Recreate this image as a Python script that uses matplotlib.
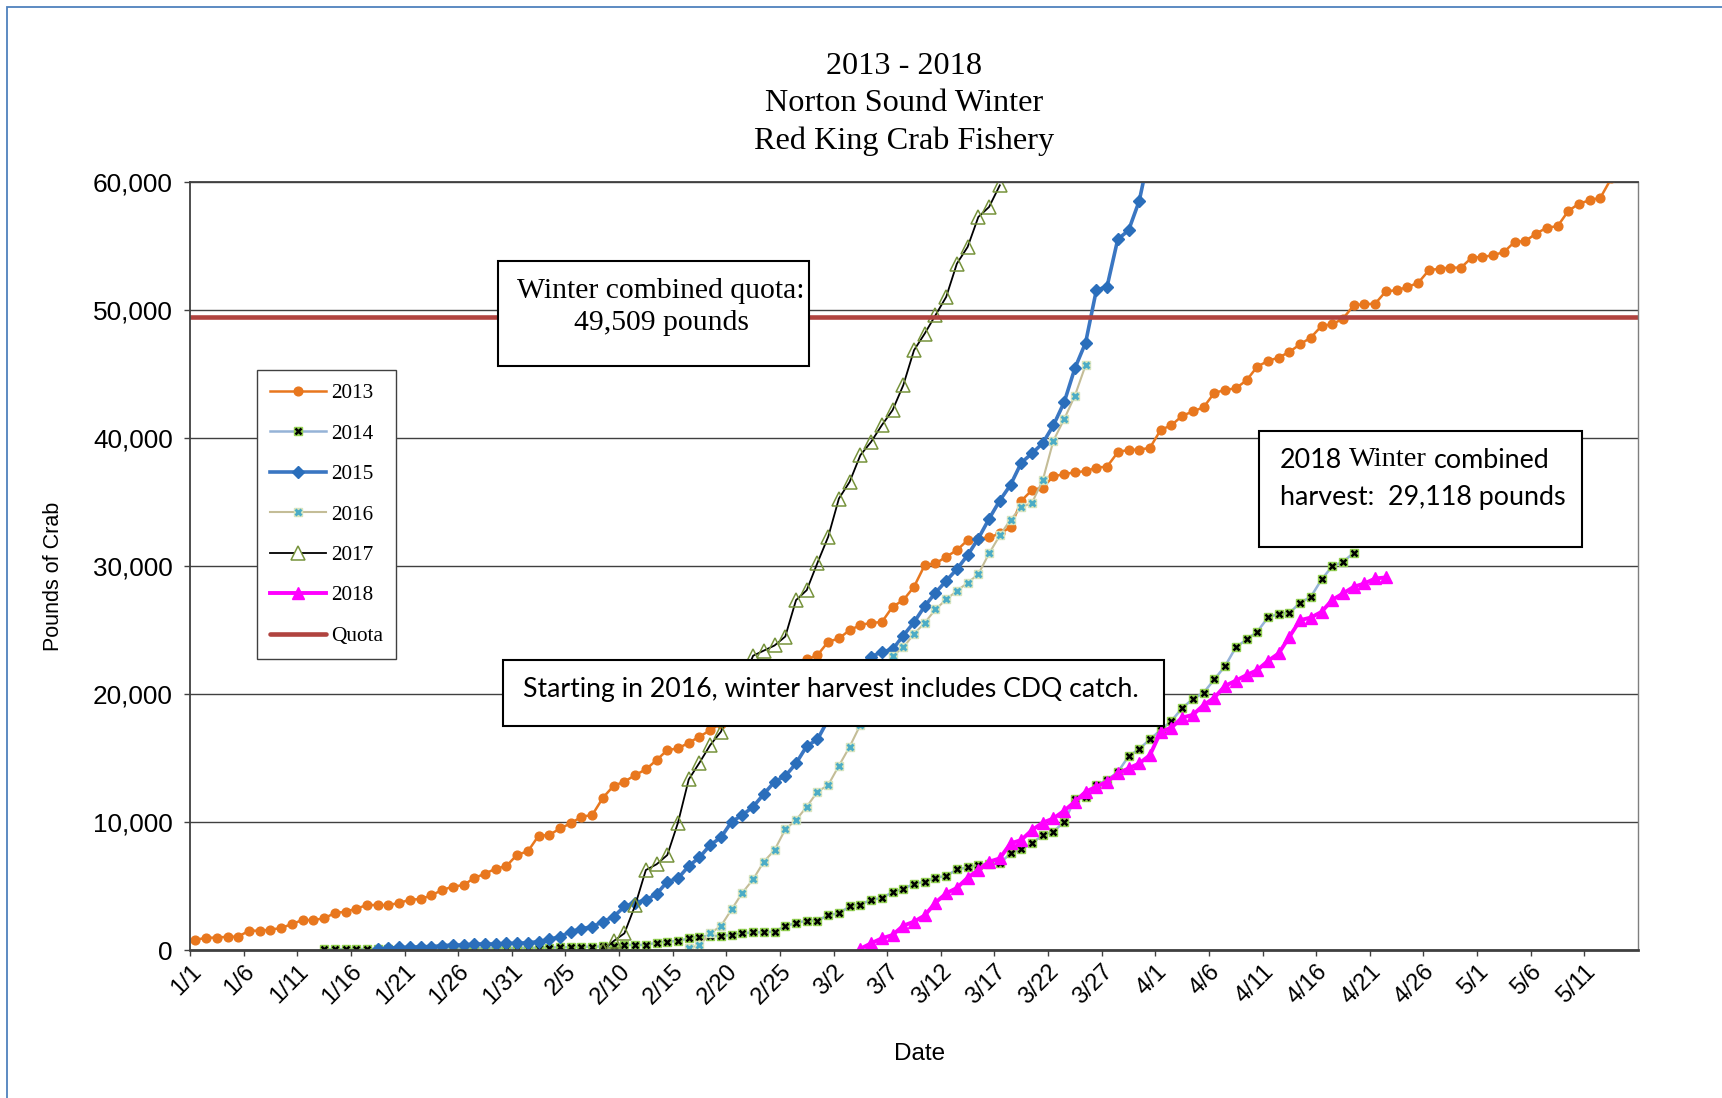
import matplotlib.pyplot as plt
import numpy as np
from matplotlib.lines import Line2D
from matplotlib.patches import Rectangle
from matplotlib.ticker import FuncFormatter

# cumulative pounds of crab by day, each season listed from its first day
start_dates = {'2013': '1/1', '2014': '1/13', '2015': '1/18',
               '2016': '2/16', '2017': '2/8', '2018': '3/4'}

harvest_2013 = [
    781, 964, 964, 1042, 1042, 1510, 1510, 1590, 1719, 2031,
    2344, 2344, 2474, 2891, 2995, 3229, 3516, 3516, 3516, 3672,
    3932, 3984, 4271, 4688, 4948, 5078, 5625, 5964, 6354, 6563,
    7448, 7708, 8932, 8984, 9505, 9896, 10417, 10547, 11901, 12839,
    13151, 13672, 14115, 14844, 15625, 15755, 16198, 16667, 17188, 17700,
    18300, 18900, 19600, 20300, 21000, 21600, 22200, 22708, 23047, 24089,
    24349, 25000, 25391, 25573, 25625, 26823, 27344, 28385, 30078, 30208,
    30729, 31250, 32031, 32161, 32240, 32553, 33036, 35106, 35945, 36146,
    37025, 37180, 37341, 37421, 37700, 37780, 38900, 39100, 39100, 39250,
    40650, 41010, 41750, 42090, 42420, 43540, 43770, 43900, 44520, 45590,
    46040, 46302, 46745, 47344, 47865, 48776, 48906, 49349, 50391, 50469,
    50521, 51484, 51563, 51823, 52135, 53125, 53255, 53333, 53333, 54115,
    54167, 54297, 54557, 55339, 55417, 55990, 56458, 56563, 57760, 58333,
    58594, 58802, 60300]

harvest_2014 = [
    50, 60, 60, 70, 80, 80, 90, 100, 100, 110,
    110, 120, 120, 130, 140, 150, 150, 160, 170, 180,
    180, 190, 200, 220, 240, 260, 280, 310, 391, 391,
    391, 573, 651, 703, 911, 1042, 1094, 1094, 1172, 1302,
    1380, 1380, 1432, 1875, 2110, 2292, 2292, 2734, 2865, 3410,
    3550, 3930, 4060, 4530, 4780, 5170, 5339, 5660, 5781, 6300,
    6450, 6640, 6720, 6771, 7552, 7865, 8333, 8984, 9245, 10026,
    11771, 11930, 12891, 13300, 13900, 15130, 15720, 16458, 17200, 17900,
    18906, 19620, 20104, 21146, 22188, 23646, 24271, 24870, 25990, 26280,
    26330, 27150, 27604, 28958, 30000, 30339, 31042]

harvest_2015 = [
    52, 130, 208, 208, 260, 260, 339, 391, 391, 469,
    469, 469, 521, 521, 573, 651, 833, 1042, 1432, 1667,
    1823, 2214, 2604, 3400, 3698, 3906, 4375, 5339, 5599, 6563,
    7240, 8203, 8802, 10026, 10547, 11198, 12188, 13151, 13594, 14583,
    15938, 16458, 18000, 19500, 21000, 22300, 22917, 23307, 23490, 24570,
    25610, 26875, 27917, 28854, 29766, 30859, 32161, 33700, 35130, 36350,
    38080, 38813, 39609, 41008, 42806, 45469, 47469, 51571, 51850, 55555,
    56235, 58547, 62500]

harvest_2016 = [
    130, 391, 1302, 1875, 3177, 4479, 5521, 6901, 7813, 9427,
    10156, 11198, 12370, 12891, 14401, 15885, 17600, 19400, 21200, 22969,
    23650, 24700, 25573, 26615, 27396, 28073, 28698, 29375, 30990, 32400,
    33640, 34590, 34950, 36703, 39813, 41484, 43320, 45711]

harvest_2017 = [
    0, 700, 1302, 3480, 6250, 6700, 7422, 9960, 13333, 14635,
    16016, 17057, 19000, 21000, 23000, 23400, 23800, 24500, 27344, 28125,
    30260, 32292, 35286, 36589, 38672, 39714, 41016, 42188, 44141, 46875,
    48177, 49609, 51042, 53646, 54948, 57292, 58073, 59766]

harvest_2018 = [
    100, 521, 911, 1172, 1900, 2214, 2700, 3700, 4427, 4850,
    5650, 6250, 6900, 7161, 8333, 8594, 9375, 9948, 10286, 10885,
    11589, 12370, 12760, 13151, 13802, 14193, 14583, 15234, 17050, 17380,
    18160, 18380, 19141, 19720, 20640, 21050, 21484, 21875, 22590, 23180,
    24480, 25781, 25980, 26430, 27370, 27865, 28385, 28646, 29036, 29118]

quota = 49509

tick_labels = ['1/1', '1/6', '1/11', '1/16', '1/21', '1/26', '1/31', '2/5',
               '2/10', '2/15', '2/20', '2/25', '3/2', '3/7', '3/12', '3/17',
               '3/22', '3/27', '4/1', '4/6', '4/11', '4/16', '4/21', '4/26',
               '5/1', '5/6', '5/11']

MONTH_START = {1: 0, 2: 31, 3: 59, 4: 90, 5: 120}
W, H = 1722, 1098


def day_index(md):
    m, d = md.split('/')
    return MONTH_START[int(m)] + int(d) - 1


def days_for(year, values):
    # points sit in the middle of each day's slot
    return day_index(start_dates[year]) + np.arange(len(values)) + 0.5


def fx(px):
    return px / W


def fy(py):
    return 1 - py / H


fig = plt.figure(figsize=(W / 100, H / 100), dpi=100)
ax = fig.add_axes([fx(190), fy(950), (1638 - 190) / W, (950 - 182.3) / H])

c13, c15, c18 = '#E8771E', '#3A76C2', '#FF00FF'
quota_color = '#B0433F'

ax.plot(days_for('2013', harvest_2013), harvest_2013, color=c13, lw=1.8,
        marker='o', ms=6.3, mec=c13, mfc=c13)

x14 = days_for('2014', harvest_2014)
ax.plot(x14, harvest_2014, color='#95B3D7', lw=1.8, marker='s', ms=5.5,
        mfc='#92D050', mec='#92D050')
ax.plot(x14, harvest_2014, ls='none', marker='x', ms=4.8, mew=1.8, color='black')

ax.plot(days_for('2015', harvest_2015), harvest_2015, color=c15, lw=2.6,
        marker='D', ms=6.2, mec='#2A6EBB', mfc='#2A6EBB')

x16 = days_for('2016', harvest_2016)
ax.plot(x16, harvest_2016, color='#C4BD97', lw=1.5, marker='s', ms=5.5,
        mfc='#D7E4BD', mec='#D7E4BD')
ax.plot(x16, harvest_2016, ls='none', marker='x', ms=4.8, mew=2, color='#4BACC6')

ax.plot(days_for('2017', harvest_2017), harvest_2017, color='black', lw=1.3,
        marker='^', ms=10, mfc='none', mec='#77933C', mew=1.1)

ax.plot(days_for('2018', harvest_2018), harvest_2018, color=c18, lw=2.8,
        marker='^', ms=8, mec=c18, mfc=c18)

ax.plot([0, 135], [quota, quota], color=quota_color, lw=3.3, solid_capstyle='round')

ax.set_xlim(0, 135)
ax.set_ylim(0, 60000)
ax.set_yticks(np.arange(0, 60001, 10000))
ax.yaxis.set_major_formatter(FuncFormatter(lambda v, p: f'{int(v):,}'))
ax.set_xticks([day_index(t) for t in tick_labels])
ax.set_xticklabels(tick_labels, rotation=45, ha='right', rotation_mode='anchor',
                   fontfamily='Liberation Sans', fontsize=17)
for lbl in ax.get_yticklabels():
    lbl.set_fontfamily('Liberation Sans')
    lbl.set_fontsize(18.8)
ax.tick_params(axis='both', direction='out', length=4.5, width=1, color='#404040')
ax.tick_params(axis='x', pad=3)
ax.tick_params(axis='y', pad=8)

ax.set_axisbelow(True)
ax.grid(axis='y', color='#404040', lw=1)
for side in ['left', 'top']:
    ax.spines[side].set_color('#404040')
    ax.spines[side].set_linewidth(1.3)
ax.spines['right'].set_color('#7F7F7F')
ax.spines['right'].set_linewidth(1)
ax.spines['bottom'].set_color('#404040')
ax.spines['bottom'].set_linewidth(2)

ax.set_ylabel('Pounds of Crab', fontfamily='Liberation Sans', fontsize=15.5)
ax.yaxis.set_label_coords((64 - 190) / 1448, 0.4865)
ax.set_xlabel('Date', fontfamily='Liberation Sans', fontsize=17.5)
ax.xaxis.set_label_coords((920 - 190) / 1448, -0.121)

fig.text(fx(904), fy(104), '2013 - 2018\nNorton Sound Winter\nRed King Crab Fishery',
         ha='center', va='center', multialignment='center', linespacing=1.36,
         fontfamily='Liberation Serif', fontsize=23.2)

# legend
handles = [
    Line2D([], [], color=c13, lw=1.8, marker='o', ms=6.3, mfc=c13, mec=c13),
    (Line2D([], [], color='#95B3D7', lw=1.8, marker='s', ms=5.5, mfc='#92D050', mec='#92D050'),
     Line2D([], [], ls='none', marker='x', ms=4.8, mew=1.8, color='black')),
    Line2D([], [], color=c15, lw=2.6, marker='D', ms=6.2, mfc='#2A6EBB', mec='#2A6EBB'),
    (Line2D([], [], color='#C4BD97', lw=1.5, marker='s', ms=5.5, mfc='#D7E4BD', mec='#D7E4BD'),
     Line2D([], [], ls='none', marker='x', ms=4.8, mew=2, color='#4BACC6')),
    Line2D([], [], color='black', lw=1.3, marker='^', ms=10, mfc='white', mec='#77933C', mew=1.1),
    Line2D([], [], color=c18, lw=2.8, marker='^', ms=8, mfc=c18, mec=c18),
    Line2D([], [], color=quota_color, lw=3.3, solid_capstyle='round'),
]
labels = ['2013', '2014', '2015', '2016', '2017', '2018', 'Quota']
leg = ax.legend(handles, labels, loc='upper left', bbox_to_anchor=(fx(257), fy(370)),
                bbox_transform=fig.transFigure, borderaxespad=0, fancybox=False,
                framealpha=1, edgecolor='#404040',
                prop={'family': 'Liberation Serif', 'size': 15.3},
                handlelength=2.65, handletextpad=0.2, labelspacing=0.97, borderpad=0.62)
leg.get_frame().set_linewidth(1)


def note_box(x0, y0, x1, y1):
    fig.patches.append(Rectangle((fx(x0), fy(y1)), fx(x1) - fx(x0), fy(y0) - fy(y1),
                                 transform=fig.transFigure, facecolor='white',
                                 edgecolor='black', lw=1.5, zorder=5))


note_box(498, 261, 809, 366)
fig.text(fx(661), fy(307), 'Winter combined quota:\n49,509 pounds', ha='center',
         va='center', multialignment='center', linespacing=1.33,
         fontfamily='Liberation Serif', fontsize=21.3, zorder=6)

note_box(503, 660, 1164, 726)
fig.text(fx(523), fy(690), 'Starting in 2016, winter harvest includes CDQ catch.',
         ha='left', va='center', fontfamily='Lato', fontsize=19.2, zorder=6)

note_box(1259, 431, 1582, 547)
renderer = fig.canvas.get_renderer()
sans = dict(fontfamily='Lato', fontsize=19.4, va='center', zorder=6)
serif = dict(fontfamily='Liberation Serif', fontsize=20.5, va='center', zorder=6)
x = fx(1280)
for piece, style in [('2018', sans), ('Winter', serif), ('combined', sans)]:
    t = fig.text(x, fy(460), piece, **style)
    bb = t.get_window_extent(renderer)
    x = fx(bb.x1 + 7)
fig.text(fx(1280), fy(497), 'harvest:  29,118 pounds', **sans)

# outer chart border
fig.patches.append(Rectangle((fx(6.6), -0.5), 2, fy(6.6) + 0.5, transform=fig.transFigure,
                             fill=False, edgecolor='#4F81BD', lw=1.3, zorder=0))

fig.savefig('out.png', dpi=100)
